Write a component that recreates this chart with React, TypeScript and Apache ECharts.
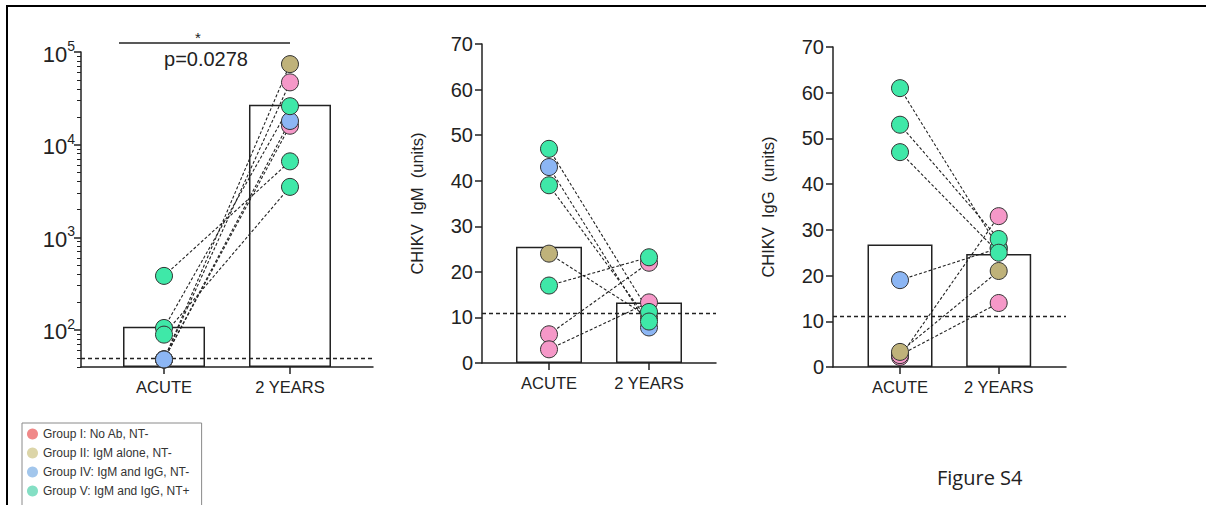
import React, { useEffect, useRef } from 'react';
import * as echarts from 'echarts';

// ---------------- data ----------------
const categories = ['ACUTE', '2 YEARS'];
const groupNames = [
  'Group I: No Ab, NT-',
  'Group II: IgM alone, NT-',
  'Group IV: IgM and IgG, NT-',
  'Group V: IgM and IgG, NT+',
];
// group index of each of the 7 subjects
const subjectGroups = [0, 0, 1, 2, 3, 3, 3];

// panel 1 : titer (log scale)
const titerAcute = [48, 48, 48, 48, 383, 105, 89];
const titer2y = [47000, 16000, 74000, 18000, 6600, 26000, 3500];
const titerBars = [108, 27000];
const titerCutoff = 50;

// panel 2 : CHIKV IgM (units)
const igmAcute = [6.3, 3, 24, 43, 47, 39, 17];
const igm2y = [22, 13.3, 10, 7.8, 11.2, 9.1, 23.2];
const igmBars = [25.5, 13.3];
const igmCutoff = 11;

// panel 3 : CHIKV IgG (units)
const iggAcute = [2.2, 2.6, 3.3, 19, 61, 53, 47];
const igg2y = [33, 14, 21, 26, 26, 28, 25];
const iggBars = [26.8, 24.7];
const iggCutoff = 11;

const logTickValues = [100, 1000, 10000, 100000];
const igmAxisName = 'CHIKV  IgM  (units)';
const iggAxisName = 'CHIKV  IgG  (units)';
const sigText = 'p=0.0278';
const sigStar = '*';
const figureLabel = 'Figure S4';

// ---------------- styles ----------------
const markerColors = ['#f598c8', '#bfb27a', '#8cb6f4', '#3fe8a8'];
const legendColors = ['#f08888', '#dcd5a8', '#a2c6ec', '#84dfc4'];
const FONT = 'Arial';
const INK = '#222';

const panels = [
  {
    acute: titerAcute, later: titer2y, bars: titerBars, cutoff: titerCutoff,
    grid: { left: 81, top: 52, width: 292, height: 315 },
    xMin: -0.659, xMax: 1.659, barWidth: 82, log: true, name: '',
  },
  {
    acute: igmAcute, later: igm2y, bars: igmBars, cutoff: igmCutoff,
    grid: { left: 482, top: 44, width: 234, height: 319 },
    xMin: -0.67, xMax: 1.67, barWidth: 66, log: false, name: igmAxisName,
  },
  {
    acute: iggAcute, later: igg2y, bars: iggBars, cutoff: iggCutoff,
    grid: { left: 833, top: 47, width: 233, height: 320 },
    xMin: -0.679, xMax: 1.682, barWidth: 65, log: false, name: iggAxisName,
  },
];

function buildOption() {
  const grids: any[] = [];
  const xAxes: any[] = [];
  const yAxes: any[] = [];
  const series: any[] = [];

  const minorLog: number[] = [];
  for (let k = 1; k <= 4; k++) {
    for (let m = 2; m <= 9; m++) {
      const v = m * Math.pow(10, k);
      if (v >= 40) minorLog.push(v);
    }
  }

  panels.forEach((p, pi) => {
    grids.push({ ...p.grid, containLabel: false, outerBoundsMode: 'none' });
    xAxes.push({
      gridIndex: pi,
      type: 'value',
      min: p.xMin,
      max: p.xMax,
      splitLine: { show: false },
      axisLine: { show: true, onZero: false, lineStyle: { color: INK, width: 1.5 } },
      axisTick: { show: true, length: 7, customValues: [0, 1], lineStyle: { color: INK, width: 1.5 } },
      axisLabel: {
        customValues: [0, 1],
        formatter: (v: number) => categories[Math.round(v)] ?? '',
        fontSize: 16.5,
        fontFamily: FONT,
        color: INK,
        margin: 11,
      },
    });

    let yIndex = yAxes.length;
    if (p.log) {
      yAxes.push({
        gridIndex: pi,
        type: 'log',
        logBase: 10,
        min: 39.8,
        max: 100000,
        startValue: 39.8,
        position: 'left',
        splitLine: { show: false },
        axisLine: { show: true, onZero: false, lineStyle: { color: INK, width: 1.5 } },
        axisTick: { show: true, length: 7, customValues: logTickValues, lineStyle: { color: INK, width: 1.5 } },
        axisLabel: {
          customValues: logTickValues,
          margin: 6,
          formatter: (v: number) => `{b|10}{s|${Math.round(Math.log10(v))}}`,
          rich: {
            b: { fontSize: 22, fontFamily: FONT, color: INK, lineHeight: 26, verticalAlign: 'bottom' },
            s: { fontSize: 14, fontFamily: FONT, color: INK, lineHeight: 14, verticalAlign: 'top' },
          },
        },
      });
      yAxes.push({
        gridIndex: pi,
        type: 'log',
        logBase: 10,
        min: 39.8,
        max: 100000,
        position: 'left',
        offset: 0,
        splitLine: { show: false },
        axisLine: { show: false, onZero: false },
        axisLabel: { show: false },
        axisTick: { show: true, length: 4, customValues: minorLog, lineStyle: { color: INK, width: 1 } },
      });
    } else {
      yAxes.push({
        gridIndex: pi,
        type: 'value',
        min: 0,
        max: 70,
        interval: 10,
        position: 'left',
        name: p.name,
        nameLocation: 'middle',
        nameRotate: 90,
        nameGap: 57,
        nameTextStyle: { fontSize: 16.5, fontFamily: FONT, color: INK },
        splitLine: { show: false },
        axisLine: { show: true, onZero: false, lineStyle: { color: INK, width: 1.5 } },
        axisTick: { show: true, length: 7, lineStyle: { color: INK, width: 1.5 } },
        axisLabel: { fontSize: 20, fontFamily: FONT, color: INK, margin: 9 },
      });
    }

    // bars (means)
    series.push({
      type: 'bar',
      xAxisIndex: pi,
      yAxisIndex: yIndex,
      barWidth: p.barWidth,
      clip: true,
      z: 1,
      silent: true,
      data: p.bars.map((v, i) => [i, v]),
      itemStyle: { color: 'rgba(255,255,255,0)', borderColor: INK, borderWidth: 1.5 },
      markLine: {
        silent: true,
        symbol: 'none',
        label: { show: false },
        lineStyle: { color: INK, type: [4, 3], width: 1.3 },
        data: [{ yAxis: p.cutoff }],
      },
    });

    // paired dashed lines
    p.acute.forEach((a, si) => {
      series.push({
        type: 'line',
        xAxisIndex: pi,
        yAxisIndex: yIndex,
        symbol: 'none',
        silent: true,
        z: 3,
        lineStyle: { color: INK, width: 1.1, type: [3, 2] },
        data: [[0, a], [1, p.later[si]]],
      });
    });

    // points by group
    groupNames.forEach((g, gi) => {
      const pts: number[][] = [];
      subjectGroups.forEach((sg, si) => {
        if (sg === gi) {
          pts.push([0, p.acute[si]]);
          pts.push([1, p.later[si]]);
        }
      });
      series.push({
        type: 'scatter',
        name: g,
        xAxisIndex: pi,
        yAxisIndex: yIndex,
        symbol: 'circle',
        symbolSize: 17,
        z: 5,
        silent: true,
        itemStyle: { color: markerColors[gi], borderColor: '#333', borderWidth: 1, opacity: 1 },
        data: pts,
      });
    });
  });

  return {
    animation: false,
    backgroundColor: '#fff',
    grid: grids,
    xAxis: xAxes,
    yAxis: yAxes,
    series,
    legend: {
      orient: 'vertical',
      left: 22,
      top: 423,
      height: 120,
      padding: [5, 12, 30, 5],
      itemWidth: 11,
      itemHeight: 11,
      itemGap: 7,
      icon: 'circle',
      selectedMode: false,
      borderColor: '#8a8a8a',
      borderWidth: 1,
      textStyle: { fontSize: 12, fontFamily: FONT, color: '#333' },
      data: groupNames.map((g, i) => ({
        name: g,
        itemStyle: { color: legendColors[i], borderWidth: 0 },
      })),
    },
    graphic: [
      { type: 'line', shape: { x1: 6, y1: 6, x2: 1206, y2: 6 }, style: { stroke: '#000', lineWidth: 2 } },
      { type: 'line', shape: { x1: 7, y1: 5, x2: 7, y2: 505 }, style: { stroke: '#000', lineWidth: 2 } },
      { type: 'line', shape: { x1: 119, y1: 43, x2: 290, y2: 43 }, style: { stroke: INK, lineWidth: 1.3 } },
      {
        type: 'text', x: 198, y: 37,
        style: { text: sigStar, fontSize: 15, fontFamily: FONT, fill: INK, align: 'center', verticalAlign: 'middle' },
      },
      {
        type: 'text', x: 206, y: 59,
        style: { text: sigText, fontSize: 20, fontFamily: FONT, fill: INK, align: 'center', verticalAlign: 'middle' },
      },
      {
        type: 'text', x: 937, y: 477,
        style: { text: figureLabel, fontSize: 20, fontFamily: 'Open Sans', fill: INK, align: 'left', verticalAlign: 'middle' },
      },
    ],
  };
}

export default function App() {
  const ref = useRef<HTMLDivElement>(null);
  useEffect(() => {
    if (!ref.current) return;
    const chart = echarts.init(ref.current, undefined, { renderer: 'svg' });
    chart.setOption(buildOption() as any);
    return () => chart.dispose();
  }, []);
  return (
    <div
      ref={ref}
      style={{ position: 'absolute', left: 0, top: 0, width: 1206, height: 505, background: '#fff' }}
    />
  );
}
